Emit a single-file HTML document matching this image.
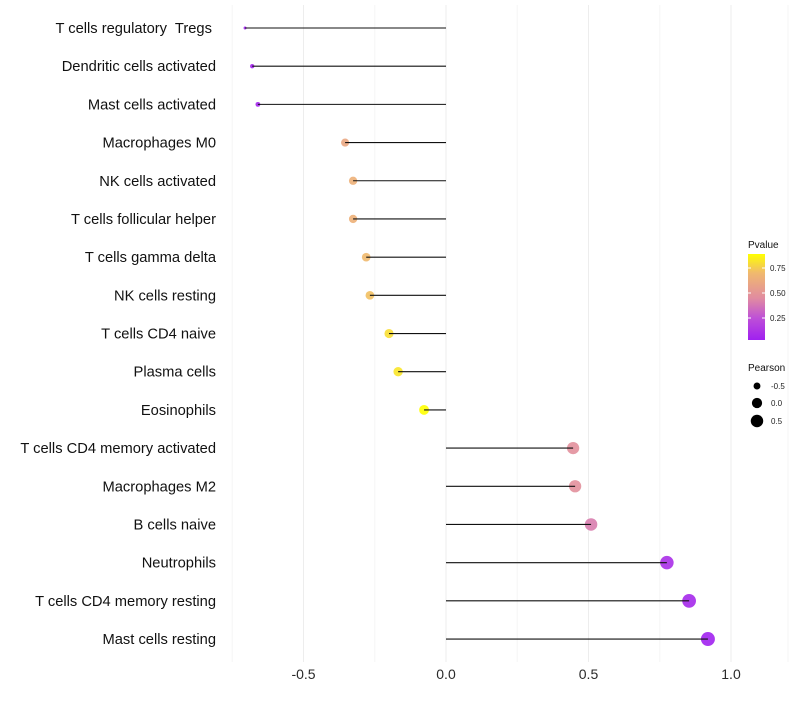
<!DOCTYPE html>
<html><head><meta charset="utf-8"><style>
body{margin:0;background:#fff;font-family:"Liberation Sans",sans-serif}
text{white-space:pre}
</style></head><body>
<svg id="c" width="800" height="700" xmlns="http://www.w3.org/2000/svg"></svg>
<script>
const categories=["T cells regulatory  Tregs ","Dendritic cells activated","Mast cells activated","Macrophages M0","NK cells activated","T cells follicular helper","T cells gamma delta","NK cells resting","T cells CD4 naive","Plasma cells","Eosinophils","T cells CD4 memory activated","Macrophages M2","B cells naive","Neutrophils","T cells CD4 memory resting","Mast cells resting"];
const pearson=[-0.705,-0.68,-0.66,-0.354,-0.326,-0.326,-0.28,-0.267,-0.2,-0.168,-0.077,0.446,0.453,0.509,0.775,0.853,0.919];
const pvalue=[0.03,0.05,0.06,0.6,0.65,0.65,0.7,0.72,0.8,0.82,0.89,0.47,0.47,0.4,0.1,0.07,0.04];
const xTicks=[-0.5,0,0.5,1.0];
const xTickLabels=["-0.5","0.0","0.5","1.0"];
const xGrid=[-0.75,-0.25,0.25,0.75,1.2];
const NS="http://www.w3.org/2000/svg";
const svg=document.getElementById('c');
function el(t,a,p){const e=document.createElementNS(NS,t);for(const k in a)e.setAttribute(k,a[k]);(p||svg).appendChild(e);return e;}
const X=v=>446+v*285;
const Y=i=>28+i*38.19;
const pmn=Math.min(...pearson),pmx=Math.max(...pearson);
const R=v=>1.5+5.5*Math.sqrt(Math.max(0,(v-pmn)/(pmx-pmn)));
const stops=[[0.03,[160,32,240]],[0.25,[190,80,215]],[0.45,[225,140,160]],[0.7,[240,185,110]],[0.89,[255,255,0]]];
function col(p){if(p<=stops[0][0])return 'rgb('+stops[0][1]+')';for(let i=1;i<stops.length;i++){if(p<=stops[i][0]){const a=stops[i-1],b=stops[i];const t=(p-a[0])/(b[0]-a[0]);return 'rgb('+a[1].map((c,j)=>Math.round(c+(b[1][j]-c)*t))+')';}}return 'rgb('+stops[stops.length-1][1]+')';}
xGrid.forEach(v=>{const g=el('line',{x1:X(v),x2:X(v),y1:5,y2:662,stroke:'#f5f5f5','stroke-width':1});});
xTicks.forEach((v,i)=>{const g=el('line',{x1:X(v),x2:X(v),y1:5,y2:662,stroke:'#ededed','stroke-width':1});
const t=el('text',{x:X(v),y:679,'text-anchor':'middle','font-size':14,fill:'#2a2a2a'});t.textContent=xTickLabels[i];});
categories.forEach((c,i)=>{const y=Y(i);
const t=el('text',{x:216,y:y+5,'text-anchor':'end','font-size':14.7,fill:'#111'});t.textContent=c;
const d=el('circle',{cx:X(pearson[i]),cy:y,r:R(pearson[i]),fill:col(pvalue[i]),'fill-opacity':0.9});
const l=el('line',{x1:X(0),x2:X(pearson[i]),y1:y,y2:y,stroke:'#111','stroke-width':1.1});});
const lt=el('text',{x:748,y:248,'font-size':10,fill:'#111'});lt.textContent='Pvalue';
const defs=el('defs',{});const lg=el('linearGradient',{id:'g',x1:0,y1:1,x2:0,y2:0},defs);
const pmin=0.03,pmax=0.89;
stops.forEach(s=>el('stop',{offset:(s[0]-pmin)/(pmax-pmin),'stop-color':'rgb('+s[1]+')'},lg));
const cb=el('rect',{x:748,y:254,width:17,height:86,fill:'url(#g)'});
[[0.75,'0.75'],[0.5,'0.50'],[0.25,'0.25']].forEach(([v,s])=>{const y=340-(v-pmin)/(pmax-pmin)*86;
el('line',{x1:748,x2:751,y1:y,y2:y,stroke:'#fff'});el('line',{x1:762,x2:765,y1:y,y2:y,stroke:'#fff'});
const t=el('text',{x:770,y:y+3,'font-size':8,fill:'#222'});t.textContent=s;});
const pt=el('text',{x:748,y:371,'font-size':10,fill:'#111'});pt.textContent='Pearson';
[[-0.5,'-0.5',386],[0,'0.0',403],[0.5,'0.5',421]].forEach(([v,s,y])=>{const c=el('circle',{cx:757,cy:y,r:R(v),fill:'#000'});
const t=el('text',{x:771,y:y+3,'font-size':8,fill:'#222'});t.textContent=s;});
</script>
</body></html>
